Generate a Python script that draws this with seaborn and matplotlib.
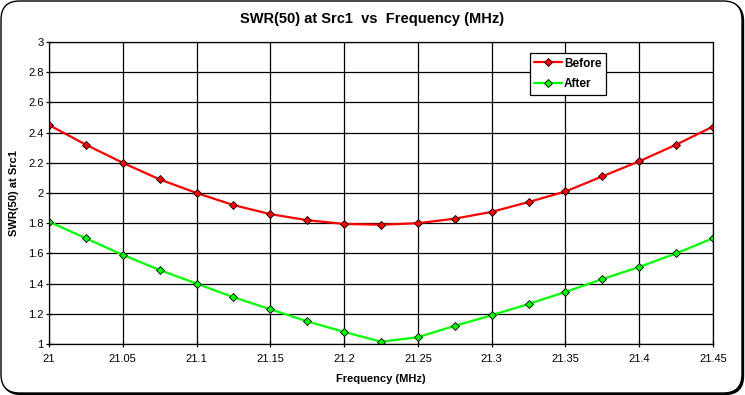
import numpy as np
import pandas as pd
import matplotlib
matplotlib.use("Agg")
import matplotlib.pyplot as plt
import seaborn as sns
from matplotlib.patches import FancyBboxPatch
from matplotlib.ticker import FuncFormatter

sns.set_style("white")
plt.rcParams['font.family'] = ['Liberation Sans', 'DejaVu Sans']
plt.rcParams['text.color'] = 'black'
plt.rcParams['axes.labelcolor'] = 'black'
plt.rcParams['xtick.color'] = 'black'
plt.rcParams['ytick.color'] = 'black'

freq = [21.0, 21.025, 21.05, 21.075, 21.1, 21.125, 21.15, 21.175, 21.2, 21.225,
        21.25, 21.275, 21.3, 21.325, 21.35, 21.375, 21.4, 21.425, 21.45]
swr_before = [2.45, 2.32, 2.20, 2.09, 2.00, 1.92, 1.86, 1.82, 1.795, 1.79,
              1.80, 1.83, 1.875, 1.94, 2.01, 2.11, 2.21, 2.32, 2.44]
swr_after = [1.81, 1.70, 1.59, 1.49, 1.40, 1.31, 1.23, 1.15, 1.08, 1.015,
             1.045, 1.12, 1.19, 1.265, 1.345, 1.43, 1.51, 1.60, 1.70]

df = pd.DataFrame({
    "freq": freq * 2,
    "swr": swr_before + swr_after,
    "series": ["Before"] * len(freq) + ["After"] * len(freq),
})

W, H = 745, 395
fig = plt.figure(figsize=(W / 100, H / 100), dpi=100)

# outer chart border with thin shadow, Excel style
box = dict(boxstyle="round,pad=0,rounding_size=0.025",
           transform=fig.transFigure, edgecolor="black", lw=1,
           mutation_aspect=W / H)
shadow = FancyBboxPatch((2.5 / W, 0.5 / H), 741 / W, 392 / H,
                        facecolor="black", zorder=-2, **box)
border = FancyBboxPatch((1 / W, 2 / H), 741 / W, 392 / H,
                        facecolor="white", zorder=-1, **box)
fig.patches.extend([shadow, border])

ax = fig.add_axes([49 / W, (H - 344) / H, 664 / W, 302 / H])
ax.set_facecolor("white")

sns.lineplot(data=df, x="freq", y="swr", hue="series",
             palette={"Before": "#ff0000", "After": "#00ff00"},
             marker="D", markersize=4.5, markeredgecolor="black",
             markeredgewidth=0.6, linewidth=1.6, ax=ax, sort=False)

ax.set_xlim(21.0, 21.45)
ax.set_ylim(1, 3)
ax.set_xticks(np.arange(21.0, 21.451, 0.05))
ax.set_yticks(np.arange(1, 3.01, 0.2))
ax.xaxis.set_major_formatter(FuncFormatter(lambda v, p: f"{round(v, 3):g}"))
ax.yaxis.set_major_formatter(FuncFormatter(lambda v, p: f"{round(v, 2):g}"))
ax.grid(True, color="black", linewidth=0.9)
ax.set_axisbelow(True)
for s in ax.spines.values():
    s.set_color("black")
    s.set_linewidth(0.9)
ax.tick_params(axis="both", direction="inout", length=4.5, width=0.9,
               color="black", labelsize=8, bottom=True, left=True)
ax.tick_params(axis="y", pad=1.5)
ax.tick_params(axis="x", pad=5)

ax.set_xlabel("Frequency (MHz)", fontsize=8, fontweight="bold")
ax.xaxis.set_label_coords(0.5, (344 - 379) / 302)
ax.xaxis.label.set_va("center")
ax.set_ylabel("SWR(50) at Src1", fontsize=8, fontweight="bold")
ax.yaxis.set_label_coords((14 - 49) / 664, 0.5)
ax.yaxis.label.set_va("center")

fig.text(372 / W, (H - 19) / H, "SWR(50) at Src1  vs  Frequency (MHz)",
         ha="center", va="center", fontsize=10.5, fontweight="bold")

leg = ax.legend(loc="upper left", bbox_to_anchor=(0.724, 0.964),
                borderaxespad=0, frameon=True, fancybox=False,
                edgecolor="black", framealpha=1, handlelength=2.3,
                prop={"size": 8.5, "weight": "bold"}, labelspacing=0.7,
                handletextpad=0.2, borderpad=0.4)
leg.get_frame().set_linewidth(0.9)

fig.savefig("out.png", dpi=100)
